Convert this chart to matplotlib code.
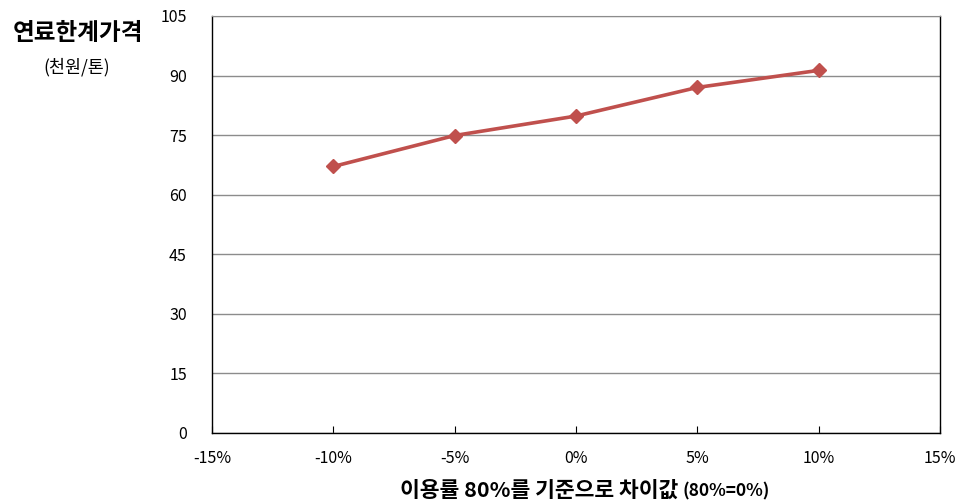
import matplotlib.pyplot as plt
from matplotlib.ticker import FuncFormatter

plt.rcParams['font.family'] = ['Noto Sans CJK KR', 'DejaVu Sans']

# utilisation gap vs. 80% baseline, and fuel break-even price (천원/톤)
rate_gap = [-10, -5, 0, 5, 10]
fuel_price = [67.1, 74.9, 79.8, 87.0, 91.3]

x_ticks = [-15, -10, -5, 0, 5, 10, 15]
y_ticks = [0, 15, 30, 45, 60, 75, 90, 105]

fig = plt.figure(figsize=(9.61, 5.04), dpi=100)
ax = fig.add_axes([0.2206, 0.1409, 0.7574, 0.8274])

ax.plot(rate_gap, fuel_price, color='#C0504D', lw=2.6, marker='D',
        markersize=7, markerfacecolor='#C0504D', markeredgecolor='#C0504D',
        zorder=3)

ax.set_xlim(-15, 15)
ax.set_ylim(0, 105)
ax.set_xticks(x_ticks)
ax.set_yticks(y_ticks)
ax.xaxis.set_major_formatter(FuncFormatter(lambda v, p: f"{int(v)}%"))

ax.yaxis.grid(True, color='#8C8C8C', lw=1.0)
ax.set_axisbelow(True)
for side in ['left', 'bottom', 'right']:
    ax.spines[side].set_color('black')
    ax.spines[side].set_linewidth(1.0)
ax.spines['top'].set_color('#8C8C8C')

ax.tick_params(axis='x', direction='in', length=5, pad=12, labelsize=11.5)
ax.tick_params(axis='y', direction='out', length=0, pad=18, labelsize=11.5)

# axis titles
fig.text(0.081, 0.934, '연료한계가격', fontsize=17, fontweight='bold',
         ha='center', va='center')
fig.text(0.080, 0.866, '(천원/톤)', fontsize=12.5, ha='center', va='center')
fig.text(0.706, 0.014, '이용률 80%를 기준으로 차이값', fontsize=15.5,
         fontweight='bold', ha='right', va='baseline')
fig.text(0.710, 0.014, '(80%=0%)', fontsize=12.5, fontweight='bold',
         ha='left', va='baseline')

fig.savefig('out.png', dpi=100)
